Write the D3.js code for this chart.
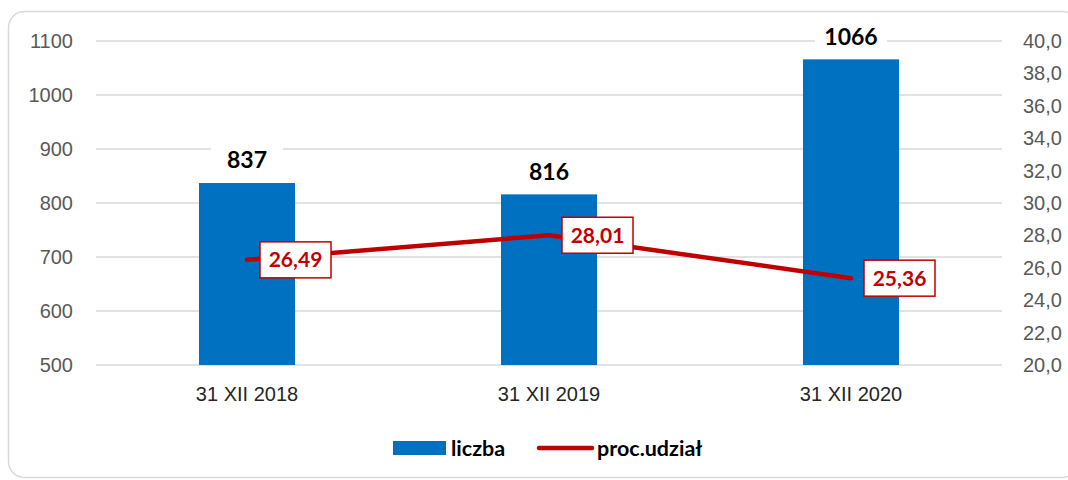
<!DOCTYPE html>
<html>
<head>
<meta charset="utf-8">
<script src="https://cdn.jsdelivr.net/npm/d3@7"></script>
<style>
  body { margin: 0; background: #fff; }
  svg { font-family: Lato, "Open Sans", sans-serif; }
</style>
</head>
<body>
<div id="chart"></div>
<script>
// chart data
var categories = ["31 XII 2018", "31 XII 2019", "31 XII 2020"];
var liczba = [837, 816, 1066];
var udzial = [26.49, 28.01, 25.36];
var leftTicks = [500, 600, 700, 800, 900, 1000, 1100];
var rightTicks = [20, 22, 24, 26, 28, 30, 32, 34, 36, 38, 40];
var legendLabels = ["liczba", "proc.udział"];

var width = 1068, height = 480;
var margin = { top: 41, right: 66, bottom: 115, left: 96 };

var svg = d3.select('#chart').append('svg')
    .attr('width', width)
    .attr('height', height);

// outer frame
svg.append('rect')
    .attr('x', 8.5).attr('y', 11.5)
    .attr('width', 1070).attr('height', 466)
    .attr('rx', 16)
    .attr('fill', '#fff')
    .attr('stroke', '#d9d9d9')
    .attr('stroke-width', 1.5);

var x = d3.scaleBand()
    .domain(categories)
    .range([margin.left, width - margin.right])
    .paddingInner(0.682)
    .paddingOuter(0.341);

var yLeft = d3.scaleLinear()
    .domain([500, 1100])
    .range([height - margin.bottom, margin.top]);

var yRight = d3.scaleLinear()
    .domain([20, 40])
    .range([height - margin.bottom, margin.top]);

// gridlines
svg.append('g')
    .selectAll('line')
    .data(leftTicks)
    .enter().append('line')
    .attr('x1', margin.left)
    .attr('x2', width - margin.right)
    .attr('y1', d => yLeft(d))
    .attr('y2', d => yLeft(d))
    .attr('stroke', '#d9d9d9')
    .attr('stroke-width', 1.5);

// left axis
var leftAxis = svg.append('g')
    .attr('transform', 'translate(' + (margin.left - 23) + ',0)')
    .call(d3.axisLeft(yLeft).tickValues(leftTicks).tickSize(0).tickPadding(0)
        .tickFormat(d3.format('d')));
leftAxis.select('.domain').remove();
leftAxis.selectAll('text')
    .attr('fill', '#595959')
    .style('font-size', '20px');

// right axis
var rightAxis = svg.append('g')
    .attr('transform', 'translate(' + (width - margin.right + 21) + ',0)')
    .call(d3.axisRight(yRight).tickValues(rightTicks).tickSize(0).tickPadding(0)
        .tickFormat(d => d3.format('.1f')(d).replace('.', ',')));
rightAxis.select('.domain').remove();
rightAxis.selectAll('text')
    .attr('fill', '#595959')
    .style('font-size', '20px');

// x axis labels
var xAxis = svg.append('g')
    .attr('transform', 'translate(0,' + (height - margin.bottom + 22) + ')')
    .call(d3.axisBottom(x).tickSize(0).tickPadding(0));
xAxis.select('.domain').remove();
xAxis.selectAll('text')
    .attr('fill', '#262626')
    .style('font-size', '20px');

// bars
svg.append('g')
    .selectAll('rect')
    .data(liczba)
    .enter().append('rect')
    .attr('x', (d, i) => x(categories[i]))
    .attr('y', d => yLeft(d))
    .attr('width', x.bandwidth())
    .attr('height', d => yLeft(500) - yLeft(d))
    .attr('fill', '#0070c0');

// bar labels with white background
var barLabels = svg.append('g')
    .selectAll('g')
    .data(liczba)
    .enter().append('g')
    .attr('transform', (d, i) => 'translate(' + (x(categories[i]) + x.bandwidth() / 2) + ',' + (yLeft(d) - 23) + ')');
barLabels.append('rect')
    .attr('x', -36).attr('y', -15)
    .attr('width', 72).attr('height', 30)
    .attr('fill', '#fff');
barLabels.append('text')
    .attr('text-anchor', 'middle')
    .attr('dy', '0.36em')
    .attr('font-weight', 'bold')
    .style('font-size', '23px')
    .attr('fill', '#000')
    .text(d => d);

// line
var line = d3.line()
    .x((d, i) => x(categories[i]) + x.bandwidth() / 2)
    .y(d => yRight(d));

svg.append('path')
    .datum(udzial)
    .attr('d', line)
    .attr('fill', 'none')
    .attr('stroke', '#c00000')
    .attr('stroke-width', 4.5)
    .attr('stroke-linecap', 'round');

// line labels in boxes
var lineLabels = svg.append('g')
    .selectAll('g')
    .data(udzial)
    .enter().append('g')
    .attr('transform', (d, i) => 'translate(' + (x(categories[i]) + x.bandwidth() / 2 + 13) + ',' + yRight(d) + ')');
lineLabels.append('rect')
    .attr('x', 0).attr('y', -18)
    .attr('width', 71).attr('height', 36)
    .attr('fill', '#fff')
    .attr('stroke', '#c00000')
    .attr('stroke-width', 1.5);
lineLabels.append('text')
    .attr('x', 35.5)
    .attr('text-anchor', 'middle')
    .attr('dy', '0.36em')
    .attr('font-weight', 'bold')
    .style('font-size', '21px')
    .attr('fill', '#c00000')
    .text(d => d.toFixed(2).replace('.', ','));

// legend
var legend = svg.append('g').attr('transform', 'translate(393,448)');
legend.append('rect')
    .attr('x', 0).attr('y', -7)
    .attr('width', 53).attr('height', 14)
    .attr('fill', '#0070c0');
legend.append('text')
    .attr('x', 58).attr('dy', '0.36em')
    .attr('font-weight', 'bold')
    .style('font-size', '21.5px')
    .attr('fill', '#000')
    .text(legendLabels[0]);
legend.append('line')
    .attr('x1', 146).attr('x2', 199)
    .attr('y1', 0).attr('y2', 0)
    .attr('stroke', '#c00000')
    .attr('stroke-width', 4.5)
    .attr('stroke-linecap', 'round');
legend.append('text')
    .attr('x', 204).attr('dy', '0.36em')
    .attr('font-weight', 'bold')
    .style('font-size', '21.5px')
    .attr('fill', '#000')
    .text(legendLabels[1]);
</script>
</body>
</html>
